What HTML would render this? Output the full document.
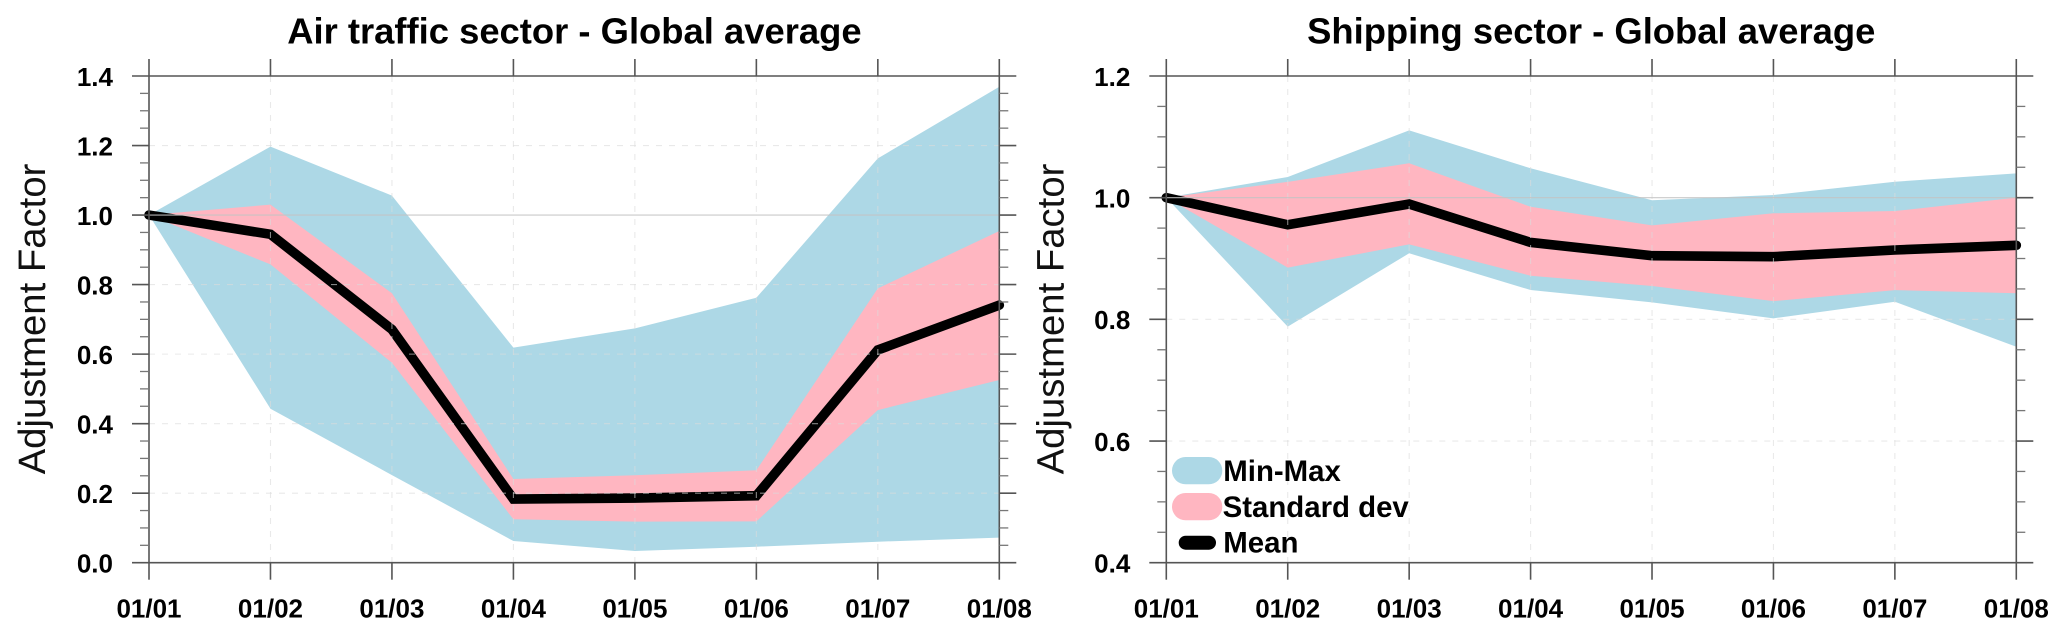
<!DOCTYPE html>
<html lang="en">
<head>
<meta charset="utf-8">
<title>Adjustment factors by sector</title>
<style>
html,body{margin:0;padding:0;background:#fff;width:2067px;height:637px;overflow:hidden}
svg{display:block}
text{font-family:"Liberation Sans",Arial,sans-serif}
.title{font-size:36.4px;font-weight:700;text-anchor:middle;fill:#000}
.ytitle{font-size:38.3px;text-anchor:middle;fill:#111}
.legend{font-size:29.4px;font-weight:700;fill:#000}
.tick{font-size:26px;font-weight:700;fill:#000}
</style>
</head>
<body>
<svg id="chart" xmlns="http://www.w3.org/2000/svg" width="2067" height="637" viewBox="0 0 2067 637">
  <rect x="0" y="0" width="2067" height="637" fill="#fff"/>
  <g id="air-panel"></g>
  <g id="ship-panel"></g>
  <text class="title" x="574.4" y="43.5">Air traffic sector - Global average</text>
  <text class="title" x="1591.2" y="43.5">Shipping sector - Global average</text>
  <text class="ytitle" transform="translate(45 319) rotate(-90)">Adjustment Factor</text>
  <text class="ytitle" transform="translate(1063.3 319) rotate(-90)">Adjustment Factor</text>
  <g>
    <g>
      <rect x="1172" y="457" width="50.3" height="27.3" rx="13.6" fill="#ADD8E6"/>
      <text class="legend" x="1223.3" y="481">Min-Max</text>
    </g>
    <g>
      <rect x="1172" y="493" width="50.3" height="27.3" rx="13.6" fill="#FFB6C1"/>
      <text class="legend" x="1222.6" y="517">Standard dev</text>
    </g>
    <g>
      <rect x="1178.7" y="535.7" width="37.3" height="14" rx="7" fill="#000"/>
      <text class="legend" x="1223.3" y="552.7">Mean</text>
    </g>
  </g>
</svg>
<script>
// Shared categories
const months = ['01/01', '01/02', '01/03', '01/04', '01/05', '01/06', '01/07', '01/08'];

// Air traffic sector values
const airMax = [1.0, 1.197, 1.056, 0.6185, 0.674, 0.762, 1.163, 1.369];
const airMin = [1.0, 0.443, 0.252, 0.0624, 0.0337, 0.046, 0.0604, 0.072];
const airStdUpper = [1.0, 1.03, 0.775, 0.2408, 0.2514, 0.2658, 0.789, 0.954];
const airStdLower = [1.0, 0.858, 0.575, 0.1248, 0.118, 0.119, 0.439, 0.5256];
const airMean = [1.0, 0.9447, 0.671, 0.183, 0.186, 0.1927, 0.612, 0.741];
const airYTicks = ['0.0', '0.2', '0.4', '0.6', '0.8', '1.0', '1.2', '1.4'];

// Shipping sector values
const shipMax = [1.0, 1.034, 1.1107, 1.0483, 0.9957, 1.0044, 1.0262, 1.04];
const shipMin = [1.0, 0.788, 0.9086, 0.8482, 0.828, 0.8017, 0.829, 0.755];
const shipStdUpper = [1.0, 1.026, 1.0565, 0.985, 0.9545, 0.9743, 0.978, 1.0];
const shipStdLower = [1.0, 0.885, 0.9233, 0.8717, 0.8548, 0.83, 0.848, 0.843];
const shipMean = [1.0, 0.9555, 0.9896, 0.9265, 0.9046, 0.903, 0.914, 0.9217];
const shipYTicks = ['0.4', '0.6', '0.8', '1.0', '1.2'];

// Horizontal reference line value
const referenceValue = 1.0;
const minorPerMajor = 3;

const NS = 'http://www.w3.org/2000/svg';
const AXIS_COLOR = '#555';
const TOP = 76;
const BOTTOM = 562.7;

function make(parent, tag, attrs, name) {
  const el = document.createElementNS(NS, tag);
  for (const k in attrs) el.setAttribute(k, attrs[k]);
  
  
  parent.appendChild(el);
  return el;
}

function drawPanel(rootId, prefix, left, right, yTicks, maxV, minV, upV, lowV, meanV) {
  const root = document.getElementById(rootId);
  const yLo = parseFloat(yTicks[0]);
  const yHi = parseFloat(yTicks[yTicks.length - 1]);
  const xScale = i => left + (right - left) * i / (months.length - 1);
  const yScale = v => BOTTOM - (v - yLo) / (yHi - yLo) * (BOTTOM - TOP);
  const band = (upper, lower) => {
    const pts = [];
    upper.forEach((v, i) => pts.push(xScale(i).toFixed(2) + ',' + yScale(v).toFixed(2)));
    for (let i = lower.length - 1; i >= 0; i--) pts.push(xScale(i).toFixed(2) + ',' + yScale(lower[i]).toFixed(2));
    return pts.join(' ');
  };

  make(root, 'polygon', { points: band(maxV, minV), fill: '#ADD8E6' }, prefix + '-min-max-band');
  make(root, 'polygon', { points: band(upV, lowV), fill: '#FFB6C1' }, prefix + '-standard-dev-band');

  const meanPts = meanV.map((v, i) => xScale(i).toFixed(2) + ',' + yScale(v).toFixed(2)).join(' ');
  make(root, 'polyline', {
    points: meanPts, fill: 'none', stroke: '#000', 'stroke-width': 9.6,
    'stroke-linecap': 'round', 'stroke-linejoin': 'miter'
  }, prefix + '-mean-line');

  // Grid
  months.forEach((m, i) => {
    if (i === 0 || i === months.length - 1) return;
    make(root, 'line', {
      x1: xScale(i), x2: xScale(i), y1: TOP, y2: BOTTOM,
      stroke: '#dcdcdc', 'stroke-width': 1.1, 'stroke-dasharray': '6 7', opacity: 0.6
    }, prefix + '-vertical-gridline');
  });
  yTicks.forEach(t => {
    const v = parseFloat(t);
    if (v === yLo || v === yHi) return;
    const isRef = v === referenceValue;
    make(root, 'line', {
      x1: left, x2: right, y1: yScale(v), y2: yScale(v),
      stroke: isRef ? '#c4c4c4' : '#dcdcdc', 'stroke-width': 1.1,
      'stroke-dasharray': isRef ? 'none' : '6 7', opacity: isRef ? 0.9 : 0.6
    }, isRef ? prefix + '-reference-line' : prefix + '-horizontal-gridline');
  });

  // Frame
  const stroke = { stroke: AXIS_COLOR, 'stroke-width': 1.6 };
  make(root, 'line', Object.assign({ x1: left, x2: left, y1: TOP, y2: BOTTOM }, stroke), prefix + '-left-axis');
  make(root, 'line', Object.assign({ x1: right, x2: right, y1: TOP, y2: BOTTOM }, stroke), prefix + '-right-axis');
  make(root, 'line', Object.assign({ x1: left, x2: right, y1: TOP, y2: TOP }, stroke), prefix + '-top-axis');
  make(root, 'line', Object.assign({ x1: left, x2: right, y1: BOTTOM, y2: BOTTOM }, stroke), prefix + '-bottom-axis');

  // X ticks and labels
  months.forEach((m, i) => {
    const x = xScale(i);
    make(root, 'line', Object.assign({ x1: x, x2: x, y1: TOP - 17, y2: TOP }, stroke), prefix + '-top-tick');
    make(root, 'line', Object.assign({ x1: x, x2: x, y1: BOTTOM, y2: BOTTOM + 17 }, stroke), prefix + '-bottom-tick');
    const label = make(root, 'text', { x: x, y: 617.7, 'text-anchor': 'middle', class: 'tick' }, prefix + '-x-tick-label');
    label.textContent = m;
  });

  // Y ticks and labels
  yTicks.forEach((t, i) => {
    const v = parseFloat(t);
    const y = yScale(v);
    make(root, 'line', Object.assign({ x1: left - 17, x2: left, y1: y, y2: y }, stroke), prefix + '-y-major-tick');
    make(root, 'line', Object.assign({ x1: right, x2: right + 17, y1: y, y2: y }, stroke), prefix + '-y-major-tick-right');
    const label = make(root, 'text', { x: left - 36, y: y + 9.8, 'text-anchor': 'end', class: 'tick' }, prefix + '-y-tick-label');
    label.textContent = t;
    if (i < yTicks.length - 1) {
      const next = parseFloat(yTicks[i + 1]);
      for (let k = 1; k <= minorPerMajor; k++) {
        const my = yScale(v + (next - v) * k / (minorPerMajor + 1));
        const minor = { stroke: '#777', 'stroke-width': 1.3 };
        make(root, 'line', Object.assign({ x1: left - 9, x2: left, y1: my, y2: my }, minor), prefix + '-y-minor-tick');
        make(root, 'line', Object.assign({ x1: right, x2: right + 9, y1: my, y2: my }, minor), prefix + '-y-minor-tick-right');
      }
    }
  });
}

drawPanel('air-panel', 'air-traffic', 149, 999.3, airYTicks, airMax, airMin, airStdUpper, airStdLower, airMean);
drawPanel('ship-panel', 'shipping', 1166.3, 2016.3, shipYTicks, shipMax, shipMin, shipStdUpper, shipStdLower, shipMean);
</script>
</body>
</html>
